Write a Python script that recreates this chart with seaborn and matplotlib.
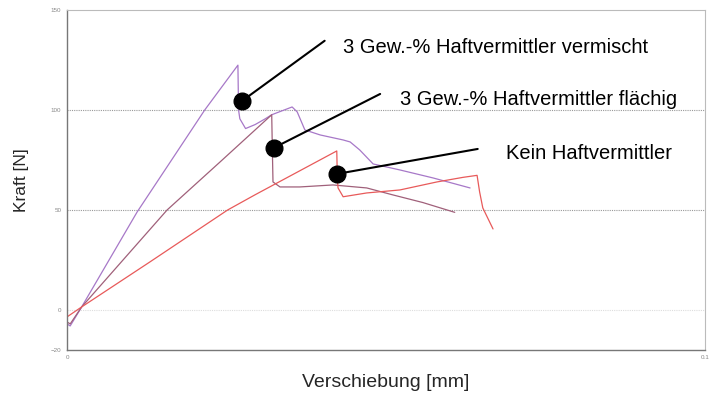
import pandas as pd
import matplotlib
matplotlib.use("Agg")
import matplotlib.pyplot as plt
import seaborn as sns

# Kraft-Verschiebungs-Kurven
x_vermischt = [0, 0.0005, 0.0023, 0.011, 0.0216, 0.0268, 0.0269, 0.0271, 0.0280, 0.0295,
               0.0311, 0.0321, 0.0353, 0.0361, 0.0373, 0.0397, 0.0433, 0.0444, 0.0459, 0.048,
               0.0522, 0.0574, 0.0632]
y_vermischt = [-7, -8, 1.5, 49, 100, 122.4, 100, 95.6, 90.7, 92.7,
               95.6, 97.6, 101.5, 99, 90, 87.5, 85, 84, 80, 73,
               70, 66, 61]

x_flaechig = [0, 0.0005, 0.0023, 0.0157, 0.024, 0.0321, 0.0322, 0.0323, 0.0334, 0.0365, 0.0417,
              0.047, 0.051, 0.0558, 0.0608]
y_flaechig = [-6, -7, 1.5, 50, 74, 97.6, 80, 64, 61.5, 61.5, 62.5,
              61, 57.6, 53.7, 48.8]

x_kein = [0, 0.0023, 0.013, 0.0252, 0.0295, 0.034, 0.0423, 0.0424, 0.0425, 0.0433, 0.047,
          0.0522, 0.058, 0.0621, 0.0643, 0.0647, 0.0652, 0.0668]
y_kein = [-3.5, 1.5, 24, 50, 57.6, 65.3, 79.5, 65, 61, 56.6, 58.5,
          60, 64, 66.3, 67.3, 59, 51, 40.5]

labels = ["3 Gew.-% Haftvermittler vermischt", "3 Gew.-% Haftvermittler flächig", "Kein Haftvermittler"]
colors = ["#a778c8", "#a0607a", "#e85a5a"]

# Punkt auf der Kurve -> Linienende -> Textposition
ann_points = [(0.0274, 104.4), (0.0324, 81), (0.0423, 68)]
ann_line_ends = [(0.0404, 134.6), (0.0491, 108), (0.0644, 80.5)]
ann_text_pos = [(0.0433, 131), (0.0522, 105), (0.0689, 78)]

frames = []
for lab, xs, ys in zip(labels, [x_vermischt, x_flaechig, x_kein], [y_vermischt, y_flaechig, y_kein]):
    frames.append(pd.DataFrame({"Verschiebung": xs, "Kraft": ys, "Probe": lab}))
df = pd.concat(frames, ignore_index=True)

sns.set_style("white")
plt.rcParams["font.family"] = ["Liberation Sans", "DejaVu Sans"]

fig = plt.figure(figsize=(7.09, 3.99), dpi=100)
ax = fig.add_axes([0.0945, 0.123, 0.8995, 0.852])

sns.lineplot(data=df, x="Verschiebung", y="Kraft", hue="Probe", palette=colors,
             sort=False, estimator=None, units="Probe", linewidth=0.9, legend=False, ax=ax)

ax.set_xlim(0, 0.1)
ax.set_ylim(-20, 150)
ax.set_xticks([0, 0.1])
ax.set_xticklabels(["0", "0.1"])
ax.set_yticks([-20, 0, 50, 100, 150])
ax.tick_params(labelsize=4.5, labelcolor="#888888", length=0, pad=4)

for yv, c in [(0, "#dddddd"), (50, "#999999"), (100, "#999999")]:
    ax.axhline(yv, color=c, lw=0.8, ls=(0, (1, 1)), zorder=0)

for side in ["left", "bottom"]:
    ax.spines[side].set_color("#777777")
    ax.spines[side].set_linewidth(1.0)
for side in ["top", "right"]:
    ax.spines[side].set_color("#bbbbbb")
    ax.spines[side].set_linewidth(0.8)

for (px, py), (ex, ey), (tx, ty), lab in zip(ann_points, ann_line_ends, ann_text_pos, labels):
    ax.plot([px, ex], [py, ey], color="black", lw=1.5, zorder=5)
    ax.plot(px, py, "o", color="black", markersize=12, zorder=6)
    ax.text(tx, ty, lab, fontsize=14.5, va="center", ha="left", color="black", zorder=7)

ax.set_xlabel("Verschiebung [mm]", fontsize=14, labelpad=10)
ax.set_ylabel("Kraft [N]", fontsize=12.5, labelpad=16)

fig.savefig("out.png", dpi=100)
